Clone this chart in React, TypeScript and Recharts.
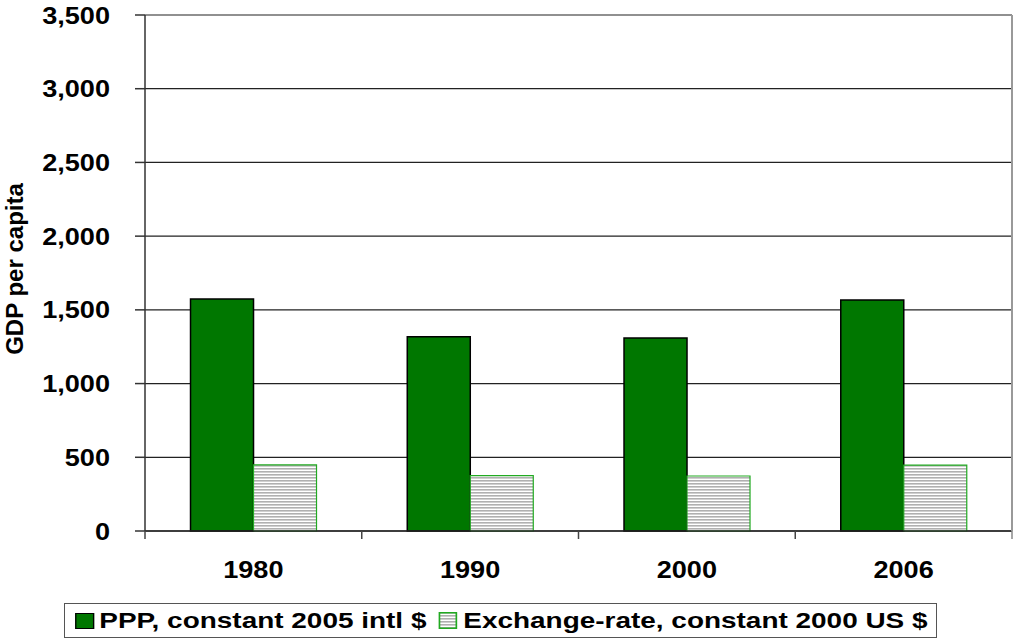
import React from 'react'
import { BarChart, Bar, XAxis, YAxis, CartesianGrid, Legend } from 'recharts'

const years = ['1980', '1990', '2000', '2006']
const pppValues = [1574, 1318, 1309, 1567]
const exchangeValues = [448, 375, 373, 447]
const yTicks = [0, 500, 1000, 1500, 2000, 2500, 3000, 3500]

const data = years.map((year, i) => ({
    year,
    ppp: pppValues[i],
    exchange: exchangeValues[i]
}))

const W = 1013
const H = 640
const MARGIN = { top: 15, right: 0, left: 0, bottom: 69 }
const Y_W = 145
const X_H = 40
const PLOT_LEFT = MARGIN.left + Y_W
const PLOT_RIGHT = W - MARGIN.right - 1
const PLOT_BOTTOM = H - MARGIN.bottom - X_H
const BAND = (PLOT_RIGHT - PLOT_LEFT) / years.length

const font = 'Arial, "Liberation Sans", sans-serif'
const STRETCH = 1.13 // the original labels are a bit wider than plain arial

// category label plus the boundary tick marks excel draws between groups
const YearTick = (props: any) => {
    const { x, payload, index } = props
    const left = x - BAND / 2
    const ty = PLOT_BOTTOM + 47
    return (
        <g>
            <line x1={left} x2={left} y1={PLOT_BOTTOM} y2={PLOT_BOTTOM + 8} stroke="#444" strokeWidth={1.5} />
            {index === years.length - 1 && (
                <line x1={x + BAND / 2} x2={x + BAND / 2} y1={PLOT_BOTTOM} y2={PLOT_BOTTOM + 8} stroke="#888" strokeWidth={1.5} />
            )}
            <text transform={`translate(${x} ${ty}) scale(${STRETCH} 1)`} textAnchor="middle" fontSize={24} fontWeight="bold" fontFamily={font} fill="#000">
                {payload.value}
            </text>
        </g>
    )
}

const ValueTick = (props: any) => {
    const { x, y, payload } = props
    return (
        <text transform={`translate(${x} ${y}) scale(${STRETCH} 1)`} dy="0.36em" textAnchor="end" fontSize={24} fontWeight="bold" fontFamily={font} fill="#000">
            {Number(payload.value).toLocaleString('en-US')}
        </text>
    )
}

const YLabel = (props: any) => {
    const { viewBox } = props
    const cy = viewBox.y + viewBox.height / 2 - 4
    return (
        <text x={23} y={cy} transform={`rotate(-90 23 ${cy})`} textAnchor="middle" fontSize={24} fontWeight="bold" fontFamily={font} fill="#000">
            GDP per capita
        </text>
    )
}

const LegendBox = () => (
    <div style={{ width: 873, height: 35, boxSizing: 'border-box', border: '1.5px solid #555', background: '#fff', overflow: 'hidden' }}>
        <div style={{ display: 'flex', alignItems: 'center', height: '100%', transform: 'scaleX(1.27)', transformOrigin: 'left center', fontFamily: font, fontWeight: 'bold', fontSize: 22, color: '#000', whiteSpace: 'nowrap' }}>
            <span style={{ display: 'inline-block', width: 13, height: 14, marginLeft: 8, background: '#007700', border: '1.5px solid #000' }} />
            <span style={{ marginLeft: 4 }}>PPP, constant 2005 intl $</span>
            <svg width={15} height={17} style={{ marginLeft: 9 }}>
                <rect x={0.75} y={0.75} width={13.5} height={15.5} fill="url(#hatch)" stroke="#22aa22" strokeWidth={1.5} />
            </svg>
            <span style={{ marginLeft: 5 }}>Exchange-rate, constant 2000 US $</span>
        </div>
    </div>
)

export default function App() {
    return (
        <div style={{ position: 'absolute', left: 0, top: 0, background: '#fff' }}>
            <BarChart width={W} height={H} data={data} margin={MARGIN} barCategoryGap="21%" barGap={0}>
                <defs>
                    <pattern id="hatch" width={6} height={3} patternUnits="userSpaceOnUse">
                        <rect width={6} height={3} fill="#fff" />
                        <rect width={6} height={1.6} fill="#b0b0b0" />
                    </pattern>
                </defs>
                <CartesianGrid vertical={false} stroke="#222" strokeWidth={1.2} />
                <XAxis
                    dataKey="year"
                    height={X_H}
                    axisLine={{ stroke: '#222', strokeWidth: 1.5 }}
                    tickLine={false}
                    tick={<YearTick />}
                    interval={0}
                />
                <XAxis xAxisId="top" orientation="top" dataKey="year" height={0} tick={false} tickLine={false} axisLine={{ stroke: '#999', strokeWidth: 1.5 }} />
                <YAxis
                    width={Y_W}
                    domain={[0, 3500]}
                    ticks={yTicks}
                    interval={0}
                    tickSize={10}
                    tickMargin={25}
                    tick={<ValueTick />}
                    axisLine={{ stroke: '#333', strokeWidth: 1.5 }}
                    tickLine={{ stroke: '#333', strokeWidth: 1.5 }}
                    label={<YLabel />}
                />
                <YAxis yAxisId="right" orientation="right" width={1} tick={false} tickLine={false} axisLine={{ stroke: '#999', strokeWidth: 2 }} />
                <Legend
                    layout="horizontal"
                    verticalAlign="middle"
                    align="center"
                    wrapperStyle={{ left: 64, top: 603, width: 873 }}
                    content={<LegendBox />}
                />
                <Bar dataKey="ppp" name="PPP, constant 2005 intl $" fill="#007700" stroke="#000" strokeWidth={1.5} isAnimationActive={false} />
                <Bar dataKey="exchange" name="Exchange-rate, constant 2000 US $" fill="url(#hatch)" stroke="#22aa22" strokeWidth={1.2} isAnimationActive={false} />
            </BarChart>
        </div>
    )
}
